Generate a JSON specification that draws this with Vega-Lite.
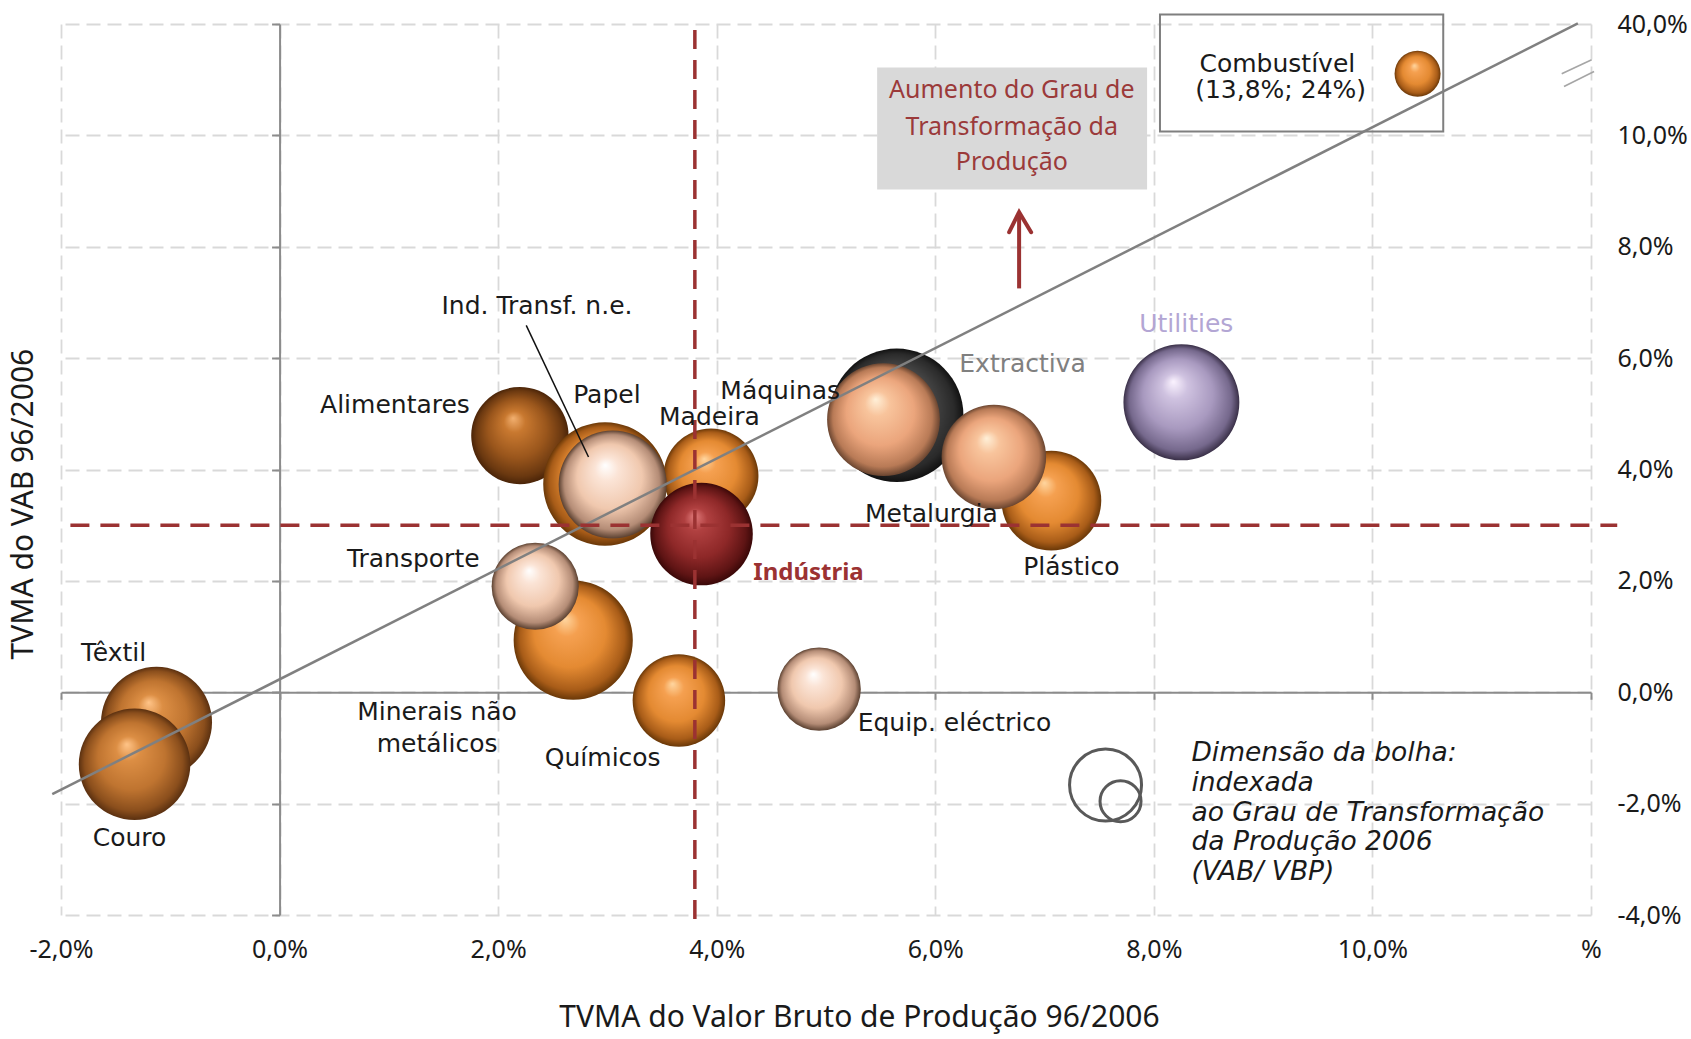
{
  "$schema": "https://vega.github.io/schema/vega-lite/v6.json",
  "width": 1530,
  "height": 891,
  "autosize": "none",
  "padding": {"left": 61, "top": 24, "right": 100, "bottom": 124},
  "background": "white",
  "config": {"view": {"stroke": null}},
  "resolve": {"axis": {"x": "independent", "y": "independent"}},
  "datasets": {
    "setores": [
      {"setor": "Alimentares", "tvma_vbp": 2.199, "tvma_vab": 4.609, "gt": 23.7},
      {"setor": "Têxtil", "tvma_vbp": -1.126, "tvma_vab": -0.54, "gt": 30.8},
      {"setor": "Couro", "tvma_vbp": -1.327, "tvma_vab": -1.294, "gt": 31.1},
      {"setor": "Papel", "tvma_vbp": 2.978, "tvma_vab": 3.74, "gt": 38.2},
      {"setor": "Madeira", "tvma_vbp": 3.947, "tvma_vab": 3.882, "gt": 22.6},
      {"setor": "Minerais não metálicos", "tvma_vbp": 2.687, "tvma_vab": 0.935, "gt": 35.5},
      {"setor": "Químicos", "tvma_vbp": 3.654, "tvma_vab": -0.147, "gt": 21.4},
      {"setor": "Plástico", "tvma_vbp": 7.062, "tvma_vab": 3.442, "gt": 24.9},
      {"setor": "Combustível", "tvma_vbp": 10.413, "tvma_vab": 11.106, "gt": 5.3},
      {"setor": "Extractiva", "tvma_vbp": 5.647, "tvma_vab": 4.973, "gt": 44.5},
      {"setor": "Ind. Transf. n.e.", "tvma_vbp": 3.048, "tvma_vab": 3.731, "gt": 29.2},
      {"setor": "Transporte", "tvma_vbp": 2.339, "tvma_vab": 1.904, "gt": 19.0},
      {"setor": "Equip. eléctrico", "tvma_vbp": 4.937, "tvma_vab": 0.056, "gt": 17.4},
      {"setor": "Máquinas", "tvma_vbp": 5.526, "tvma_vab": 4.896, "gt": 31.8},
      {"setor": "Metalurgia", "tvma_vbp": 6.536, "tvma_vab": 4.225, "gt": 27.3},
      {"setor": "Indústria", "tvma_vbp": 3.861, "tvma_vab": 2.841, "gt": 26.3},
      {"setor": "Utilities", "tvma_vbp": 8.252, "tvma_vab": 5.206, "gt": 33.6}
    ],
    "tendencia": [
      {"x": -2.08, "y": -1.83},
      {"x": 11.88, "y": 12.01}
    ],
    "media_horizontal": [{"x": -1.914, "x2": 12.24, "y": 3.0}],
    "media_vertical": [{"x": 3.8, "y": -4.07, "y2": 12.03}],
    "guia": [{"x": 2.257, "y": 6.588, "x2": 2.827, "y2": 4.225}],
    "caixa_cinzenta": [{"x": 5.468, "x2": 7.938, "y": 9.029, "y2": 11.219}],
    "caixa_combustivel": [{"x": 8.056, "x2": 10.648, "y": 10.07, "y2": 12.17}],
    "seta": [{"x": 6.767, "y": 7.252, "y2": 8.6}],
    "ponta_seta": [
      {"x": 6.676, "y": 8.261},
      {"x": 6.767, "y": 8.622},
      {"x": 6.877, "y": 8.261}
    ],
    "quebra": [
      {"x": 11.732, "y": 11.106, "x2": 12.006, "y2": 11.357},
      {"x": 11.753, "y": 10.878, "x2": 12.028, "y2": 11.147}
    ],
    "rotulos": [
      {"texto": "Têxtil", "x": -1.519, "y": 0.707},
      {"texto": "Couro", "x": -1.373, "y": -2.624},
      {"texto": "Alimentares", "x": 1.056, "y": 5.163},
      {"texto": "Papel", "x": 2.995, "y": 5.332},
      {"texto": "Ind. Transf. n.e.", "x": 2.355, "y": 6.929},
      {"texto": "Máquinas", "x": 4.581, "y": 5.404},
      {"texto": "Madeira", "x": 3.933, "y": 4.943},
      {"texto": "Transporte", "x": 1.223, "y": 2.396},
      {"texto": "Minerais não", "x": 1.441, "y": -0.352},
      {"texto": "metálicos", "x": 1.441, "y": -0.933},
      {"texto": "Químicos", "x": 2.957, "y": -1.188},
      {"texto": "Equip. eléctrico", "x": 6.176, "y": -0.546},
      {"texto": "Metalurgia", "x": 5.964, "y": 3.209},
      {"texto": "Plástico", "x": 7.245, "y": 2.251},
      {"texto": "Combustível", "x": 9.13, "y": 11.285},
      {"texto": "(13,8%; 24%)", "x": 9.16, "y": 10.806}
    ],
    "rotulos_cor": [
      {"texto": "Extractiva", "x": 6.799, "y": 5.901},
      {"texto": "Utilities", "x": 8.297, "y": 6.615}
    ],
    "rotulo_industria": [{"texto": "Indústria", "x": 4.84, "y": 2.15}],
    "texto_caixa": [
      {"texto": "Aumento do Grau de", "x": 6.7, "y": 10.806},
      {"texto": "Transformação da", "x": 6.7, "y": 10.142},
      {"texto": "Produção", "x": 6.7, "y": 9.514}
    ],
    "legenda_bolhas": [
      {"x": 7.558, "y": -1.667, "gt": 12.96},
      {"x": 7.695, "y": -1.958, "gt": 4.2}
    ],
    "legenda_texto": [
      {"texto": "Dimensão da bolha:", "x": 8.344, "y": -1.098},
      {"texto": "indexada", "x": 8.344, "y": -1.637},
      {"texto": "ao Grau de Transformação", "x": 8.344, "y": -2.175},
      {"texto": "da Produção 2006", "x": 8.344, "y": -2.685},
      {"texto": "(VAB/ VBP)", "x": 8.344, "y": -3.224}
    ]
  },
  "layer": [
    {
      "data": {"name": "caixa_cinzenta"},
      "mark": {"type": "rect", "fill": "#d9d9d9"},
      "encoding": {
        "x": {"field": "x", "type": "quantitative", "scale": {"domain": [-2, 12], "nice": false, "zero": false},
          "axis": {"orient": "bottom", "values": [-2, 0, 2, 4, 6, 8, 10, 12],
            "labelExpr": "datum.value == 12 ? '%' : (datum.value < 0 ? '-' : '') + replace(format(abs(datum.value), '.1f'), '.', ',') + '%'",
            "grid": true, "gridDash": [14, 7], "gridColor": "#d9d9d9", "gridWidth": 1.8,
            "domain": false, "ticks": false, "labelPadding": 34, "labelBaseline": "middle", "labelFlush": false, "labelOverlap": false,
            "labelFont": "Noto Sans", "labelFontSize": 25, "labelColor": "#1a1a1a",
            "title": "TVMA do Valor Bruto de Produção 96/2006", "titleFont": "Noto Sans", "titleFontSize": 30,
            "titleFontWeight": "normal", "titleColor": "#1a1a1a", "titleX": 798, "titleY": 102,
            "titleBaseline": "middle", "titleAlign": "center"}},
        "x2": {"field": "x2"},
        "y": {"field": "y", "type": "quantitative", "scale": {"domain": [-4, 12], "nice": false, "zero": false},
          "axis": {"orient": "right", "values": [-4, -2, 0, 2, 4, 6, 8, 10, 12],
            "labelExpr": "datum.value == 12 ? '40,0%' : (datum.value < 0 ? '-' : '') + replace(format(abs(datum.value), '.1f'), '.', ',') + '%'",
            "grid": true, "gridDash": [14, 7], "gridColor": "#d9d9d9", "gridWidth": 1.8,
            "domain": false, "ticks": false, "labelPadding": 26, "labelAlign": "left", "labelBaseline": "middle", "labelFlush": false, "labelOverlap": false,
            "labelFont": "Noto Sans", "labelFontSize": 25, "labelColor": "#1a1a1a", "title": null}},
        "y2": {"field": "y2"}
      }
    },
    {
      "data": {"name": "caixa_combustivel"},
      "mark": {"type": "rect", "fill": null, "fillOpacity": 0, "stroke": "#7f7f7f", "strokeWidth": 2},
      "encoding": {
        "x": {"field": "x", "type": "quantitative", "scale": {"domain": [-2, 12], "nice": false, "zero": false}, "axis": null},
        "x2": {"field": "x2"},
        "y": {"field": "y", "type": "quantitative", "scale": {"domain": [-4, 12], "nice": false, "zero": false}, "axis": null},
        "y2": {"field": "y2"}
      }
    },
    {
      "data": {"name": "setores"},
      "transform": [{"filter": {"field": "setor", "oneOf": ["Alimentares"]}}],
      "mark": {"type": "point", "shape": "circle", "filled": true, "opacity": 1, "strokeWidth": 0,
        "fill": {"gradient": "radial", "x1": 0.43, "y1": 0.32, "r1": 0, "x2": 0.5, "y2": 0.5, "r2": 0.5,
          "stops": [{"offset": 0, "color": "#f2b070"}, {"offset": 0.22, "color": "#c8782f"}, {"offset": 0.6, "color": "#9a561c"}, {"offset": 0.88, "color": "#6a3810"}, {"offset": 1, "color": "#4a2408"}]}},
      "encoding": {
        "x": {"field": "tvma_vbp", "type": "quantitative", "scale": {"domain": [-2, 12], "nice": false, "zero": false}, "axis": null},
        "y": {"field": "tvma_vab", "type": "quantitative", "scale": {"domain": [-4, 12], "nice": false, "zero": false}, "axis": null},
        "size": {"field": "gt", "type": "quantitative", "scale": {"domain": [0, 50], "range": [0, 20000]}, "legend": null}
      }
    },
    {
      "data": {"name": "setores"},
      "transform": [{"filter": {"field": "setor", "oneOf": ["Têxtil", "Couro"]}}],
      "mark": {"type": "point", "shape": "circle", "filled": true, "opacity": 1, "strokeWidth": 0,
        "fill": {"gradient": "radial", "x1": 0.43, "y1": 0.32, "r1": 0, "x2": 0.5, "y2": 0.5, "r2": 0.5,
          "stops": [{"offset": 0, "color": "#ffc488"}, {"offset": 0.22, "color": "#dc8e44"}, {"offset": 0.6, "color": "#bf7430"}, {"offset": 0.88, "color": "#8a4e1c"}, {"offset": 1, "color": "#5a3010"}]}},
      "encoding": {
        "x": {"field": "tvma_vbp", "type": "quantitative", "scale": {"domain": [-2, 12], "nice": false, "zero": false}, "axis": null},
        "y": {"field": "tvma_vab", "type": "quantitative", "scale": {"domain": [-4, 12], "nice": false, "zero": false}, "axis": null},
        "size": {"field": "gt", "type": "quantitative", "scale": {"domain": [0, 50], "range": [0, 20000]}, "legend": null}
      }
    },
    {
      "data": {"name": "setores"},
      "transform": [{"filter": {"field": "setor", "oneOf": ["Papel", "Madeira", "Minerais não metálicos", "Químicos", "Plástico", "Combustível"]}}],
      "mark": {"type": "point", "shape": "circle", "filled": true, "opacity": 1, "strokeWidth": 0,
        "fill": {"gradient": "radial", "x1": 0.43, "y1": 0.32, "r1": 0, "x2": 0.5, "y2": 0.5, "r2": 0.5,
          "stops": [{"offset": 0, "color": "#ffd6a0"}, {"offset": 0.22, "color": "#f5a050"}, {"offset": 0.6, "color": "#e48a32"}, {"offset": 0.88, "color": "#a85c18"}, {"offset": 1, "color": "#6a3808"}]}},
      "encoding": {
        "x": {"field": "tvma_vbp", "type": "quantitative", "scale": {"domain": [-2, 12], "nice": false, "zero": false}, "axis": null},
        "y": {"field": "tvma_vab", "type": "quantitative", "scale": {"domain": [-4, 12], "nice": false, "zero": false}, "axis": null},
        "size": {"field": "gt", "type": "quantitative", "scale": {"domain": [0, 50], "range": [0, 20000]}, "legend": null}
      }
    },
    {
      "data": {"name": "setores"},
      "transform": [{"filter": {"field": "setor", "oneOf": ["Extractiva"]}}],
      "mark": {"type": "point", "shape": "circle", "filled": true, "opacity": 1, "strokeWidth": 0,
        "fill": {"gradient": "radial", "x1": 0.43, "y1": 0.32, "r1": 0, "x2": 0.5, "y2": 0.5, "r2": 0.5,
          "stops": [{"offset": 0, "color": "#8a8a8a"}, {"offset": 0.22, "color": "#5a5a5a"}, {"offset": 0.6, "color": "#444444"}, {"offset": 0.88, "color": "#2a2a2a"}, {"offset": 1, "color": "#111111"}]}},
      "encoding": {
        "x": {"field": "tvma_vbp", "type": "quantitative", "scale": {"domain": [-2, 12], "nice": false, "zero": false}, "axis": null},
        "y": {"field": "tvma_vab", "type": "quantitative", "scale": {"domain": [-4, 12], "nice": false, "zero": false}, "axis": null},
        "size": {"field": "gt", "type": "quantitative", "scale": {"domain": [0, 50], "range": [0, 20000]}, "legend": null}
      }
    },
    {
      "data": {"name": "setores"},
      "transform": [{"filter": {"field": "setor", "oneOf": ["Ind. Transf. n.e.", "Transporte", "Equip. eléctrico"]}}],
      "mark": {"type": "point", "shape": "circle", "filled": true, "opacity": 1, "strokeWidth": 0,
        "fill": {"gradient": "radial", "x1": 0.43, "y1": 0.32, "r1": 0, "x2": 0.5, "y2": 0.5, "r2": 0.5,
          "stops": [{"offset": 0, "color": "#ffffff"}, {"offset": 0.22, "color": "#fbe4d6"}, {"offset": 0.6, "color": "#f0c8ae"}, {"offset": 0.88, "color": "#b48c76"}, {"offset": 1, "color": "#5a4030"}]}},
      "encoding": {
        "x": {"field": "tvma_vbp", "type": "quantitative", "scale": {"domain": [-2, 12], "nice": false, "zero": false}, "axis": null},
        "y": {"field": "tvma_vab", "type": "quantitative", "scale": {"domain": [-4, 12], "nice": false, "zero": false}, "axis": null},
        "size": {"field": "gt", "type": "quantitative", "scale": {"domain": [0, 50], "range": [0, 20000]}, "legend": null}
      }
    },
    {
      "data": {"name": "setores"},
      "transform": [{"filter": {"field": "setor", "oneOf": ["Máquinas", "Metalurgia"]}}],
      "mark": {"type": "point", "shape": "circle", "filled": true, "opacity": 1, "strokeWidth": 0,
        "fill": {"gradient": "radial", "x1": 0.43, "y1": 0.32, "r1": 0, "x2": 0.5, "y2": 0.5, "r2": 0.5,
          "stops": [{"offset": 0, "color": "#fff0d8"}, {"offset": 0.22, "color": "#f8c49c"}, {"offset": 0.6, "color": "#eba57c"}, {"offset": 0.88, "color": "#b87a56"}, {"offset": 1, "color": "#6a4530"}]}},
      "encoding": {
        "x": {"field": "tvma_vbp", "type": "quantitative", "scale": {"domain": [-2, 12], "nice": false, "zero": false}, "axis": null},
        "y": {"field": "tvma_vab", "type": "quantitative", "scale": {"domain": [-4, 12], "nice": false, "zero": false}, "axis": null},
        "size": {"field": "gt", "type": "quantitative", "scale": {"domain": [0, 50], "range": [0, 20000]}, "legend": null}
      }
    },
    {
      "data": {"name": "setores"},
      "transform": [{"filter": {"field": "setor", "oneOf": ["Indústria"]}}],
      "mark": {"type": "point", "shape": "circle", "filled": true, "opacity": 1, "strokeWidth": 0,
        "fill": {"gradient": "radial", "x1": 0.43, "y1": 0.32, "r1": 0, "x2": 0.5, "y2": 0.5, "r2": 0.5,
          "stops": [{"offset": 0, "color": "#e07a7a"}, {"offset": 0.22, "color": "#b04040"}, {"offset": 0.6, "color": "#8e2828"}, {"offset": 0.88, "color": "#5e1414"}, {"offset": 1, "color": "#3a0808"}]}},
      "encoding": {
        "x": {"field": "tvma_vbp", "type": "quantitative", "scale": {"domain": [-2, 12], "nice": false, "zero": false}, "axis": null},
        "y": {"field": "tvma_vab", "type": "quantitative", "scale": {"domain": [-4, 12], "nice": false, "zero": false}, "axis": null},
        "size": {"field": "gt", "type": "quantitative", "scale": {"domain": [0, 50], "range": [0, 20000]}, "legend": null}
      }
    },
    {
      "data": {"name": "setores"},
      "transform": [{"filter": {"field": "setor", "oneOf": ["Utilities"]}}],
      "mark": {"type": "point", "shape": "circle", "filled": true, "opacity": 1, "strokeWidth": 0,
        "fill": {"gradient": "radial", "x1": 0.43, "y1": 0.32, "r1": 0, "x2": 0.5, "y2": 0.5, "r2": 0.5,
          "stops": [{"offset": 0, "color": "#fbf3ff"}, {"offset": 0.22, "color": "#cfc2e0"}, {"offset": 0.6, "color": "#a899bf"}, {"offset": 0.88, "color": "#75688c"}, {"offset": 1, "color": "#3a3048"}]}},
      "encoding": {
        "x": {"field": "tvma_vbp", "type": "quantitative", "scale": {"domain": [-2, 12], "nice": false, "zero": false}, "axis": null},
        "y": {"field": "tvma_vab", "type": "quantitative", "scale": {"domain": [-4, 12], "nice": false, "zero": false}, "axis": null},
        "size": {"field": "gt", "type": "quantitative", "scale": {"domain": [0, 50], "range": [0, 20000]}, "legend": null}
      }
    },
    {
      "data": {"name": "tendencia"},
      "mark": {"type": "line", "color": "#808080", "strokeWidth": 2.5},
      "encoding": {
        "x": {"field": "x", "type": "quantitative", "scale": {"domain": [-2, 12], "nice": false, "zero": false},
          "axis": {"orient": "bottom", "offset": -222.75, "values": [-2, 0, 2, 4, 6, 8, 10, 12], "labels": false, "grid": false,
            "domain": true, "domainColor": "#8c8c8c", "domainWidth": 2, "ticks": true, "tickSize": 7, "tickColor": "#8c8c8c", "tickWidth": 2, "title": null}},
        "y": {"field": "y", "type": "quantitative", "scale": {"domain": [-4, 12], "nice": false, "zero": false},
          "axis": {"orient": "left", "offset": -218.57, "values": [-4, -2, 0, 2, 4, 6, 8, 10, 12], "labels": false, "grid": false,
            "domain": true, "domainColor": "#8c8c8c", "domainWidth": 2, "ticks": true, "tickSize": 8, "tickColor": "#8c8c8c", "tickWidth": 2,
            "title": "TVMA do VAB 96/2006", "titleFont": "Noto Sans", "titleFontSize": 30, "titleFontWeight": "normal", "titleColor": "#1a1a1a",
            "titleAngle": -90, "titleX": -255.6, "titleY": 479.6, "titleAlign": "center", "titleBaseline": "middle"}}
      }
    },
    {
      "data": {"name": "media_horizontal"},
      "mark": {"type": "rule", "color": "#9b3232", "strokeWidth": 3.5, "strokeDash": [19, 11]},
      "encoding": {
        "x": {"field": "x", "type": "quantitative", "scale": {"domain": [-2, 12], "nice": false, "zero": false}, "axis": null},
        "x2": {"field": "x2"},
        "y": {"field": "y", "type": "quantitative", "scale": {"domain": [-4, 12], "nice": false, "zero": false}, "axis": null}
      }
    },
    {
      "data": {"name": "media_vertical"},
      "mark": {"type": "rule", "color": "#9b3232", "strokeWidth": 3.5, "strokeDash": [19, 11]},
      "encoding": {
        "x": {"field": "x", "type": "quantitative", "scale": {"domain": [-2, 12], "nice": false, "zero": false}, "axis": null},
        "y": {"field": "y", "type": "quantitative", "scale": {"domain": [-4, 12], "nice": false, "zero": false}, "axis": null},
        "y2": {"field": "y2"}
      }
    },
    {
      "data": {"name": "guia"},
      "mark": {"type": "rule", "color": "#111111", "strokeWidth": 1.5},
      "encoding": {
        "x": {"field": "x", "type": "quantitative", "scale": {"domain": [-2, 12], "nice": false, "zero": false}, "axis": null},
        "x2": {"field": "x2"},
        "y": {"field": "y", "type": "quantitative", "scale": {"domain": [-4, 12], "nice": false, "zero": false}, "axis": null},
        "y2": {"field": "y2"}
      }
    },
    {
      "data": {"name": "quebra"},
      "mark": {"type": "rule", "color": "#a6a6a6", "strokeWidth": 1.6},
      "encoding": {
        "x": {"field": "x", "type": "quantitative", "scale": {"domain": [-2, 12], "nice": false, "zero": false}, "axis": null},
        "x2": {"field": "x2"},
        "y": {"field": "y", "type": "quantitative", "scale": {"domain": [-4, 12], "nice": false, "zero": false}, "axis": null},
        "y2": {"field": "y2"}
      }
    },
    {
      "data": {"name": "seta"},
      "mark": {"type": "rule", "color": "#9b3232", "strokeWidth": 4},
      "encoding": {
        "x": {"field": "x", "type": "quantitative", "scale": {"domain": [-2, 12], "nice": false, "zero": false}, "axis": null},
        "y": {"field": "y", "type": "quantitative", "scale": {"domain": [-4, 12], "nice": false, "zero": false}, "axis": null},
        "y2": {"field": "y2"}
      }
    },
    {
      "data": {"name": "ponta_seta"},
      "mark": {"type": "line", "color": "#9b3232", "strokeWidth": 4, "strokeJoin": "miter", "strokeCap": "round"},
      "encoding": {
        "x": {"field": "x", "type": "quantitative", "scale": {"domain": [-2, 12], "nice": false, "zero": false}, "axis": null},
        "y": {"field": "y", "type": "quantitative", "scale": {"domain": [-4, 12], "nice": false, "zero": false}, "axis": null}
      }
    },
    {
      "data": {"name": "legenda_bolhas"},
      "mark": {"type": "point", "shape": "circle", "filled": false, "opacity": 1, "stroke": "#595959", "strokeWidth": 3},
      "encoding": {
        "x": {"field": "x", "type": "quantitative", "scale": {"domain": [-2, 12], "nice": false, "zero": false}, "axis": null},
        "y": {"field": "y", "type": "quantitative", "scale": {"domain": [-4, 12], "nice": false, "zero": false}, "axis": null},
        "size": {"field": "gt", "type": "quantitative", "scale": {"domain": [0, 50], "range": [0, 20000]}, "legend": null}
      }
    },
    {
      "data": {"name": "rotulos"},
      "mark": {"type": "text", "font": "DejaVu Sans", "fontSize": 25, "color": "#1a1a1a", "align": "center", "baseline": "middle"},
      "encoding": {
        "x": {"field": "x", "type": "quantitative", "scale": {"domain": [-2, 12], "nice": false, "zero": false}, "axis": null},
        "y": {"field": "y", "type": "quantitative", "scale": {"domain": [-4, 12], "nice": false, "zero": false}, "axis": null},
        "text": {"field": "texto"}
      }
    },
    {
      "data": {"name": "rotulos_cor"},
      "mark": {"type": "text", "font": "DejaVu Sans", "fontSize": 25, "align": "center", "baseline": "middle"},
      "encoding": {
        "x": {"field": "x", "type": "quantitative", "scale": {"domain": [-2, 12], "nice": false, "zero": false}, "axis": null},
        "y": {"field": "y", "type": "quantitative", "scale": {"domain": [-4, 12], "nice": false, "zero": false}, "axis": null},
        "text": {"field": "texto"},
        "color": {"field": "texto", "type": "nominal", "scale": {"domain": ["Extractiva", "Utilities"], "range": ["#808080", "#b3a6d4"]}, "legend": null}
      }
    },
    {
      "data": {"name": "rotulo_industria"},
      "mark": {"type": "text", "font": "Noto Sans", "fontSize": 24, "fontWeight": "bold", "color": "#9b3232", "align": "center", "baseline": "middle"},
      "encoding": {
        "x": {"field": "x", "type": "quantitative", "scale": {"domain": [-2, 12], "nice": false, "zero": false}, "axis": null},
        "y": {"field": "y", "type": "quantitative", "scale": {"domain": [-4, 12], "nice": false, "zero": false}, "axis": null},
        "text": {"field": "texto"}
      }
    },
    {
      "data": {"name": "texto_caixa"},
      "mark": {"type": "text", "font": "Noto Sans", "fontSize": 25, "color": "#9b3a3a", "align": "center", "baseline": "middle"},
      "encoding": {
        "x": {"field": "x", "type": "quantitative", "scale": {"domain": [-2, 12], "nice": false, "zero": false}, "axis": null},
        "y": {"field": "y", "type": "quantitative", "scale": {"domain": [-4, 12], "nice": false, "zero": false}, "axis": null},
        "text": {"field": "texto"}
      }
    },
    {
      "data": {"name": "legenda_texto"},
      "mark": {"type": "text", "font": "DejaVu Sans", "fontSize": 26.5, "fontStyle": "italic", "color": "#1a1a1a", "align": "left", "baseline": "middle"},
      "encoding": {
        "x": {"field": "x", "type": "quantitative", "scale": {"domain": [-2, 12], "nice": false, "zero": false}, "axis": null},
        "y": {"field": "y", "type": "quantitative", "scale": {"domain": [-4, 12], "nice": false, "zero": false}, "axis": null},
        "text": {"field": "texto"}
      }
    }
  ]
}
